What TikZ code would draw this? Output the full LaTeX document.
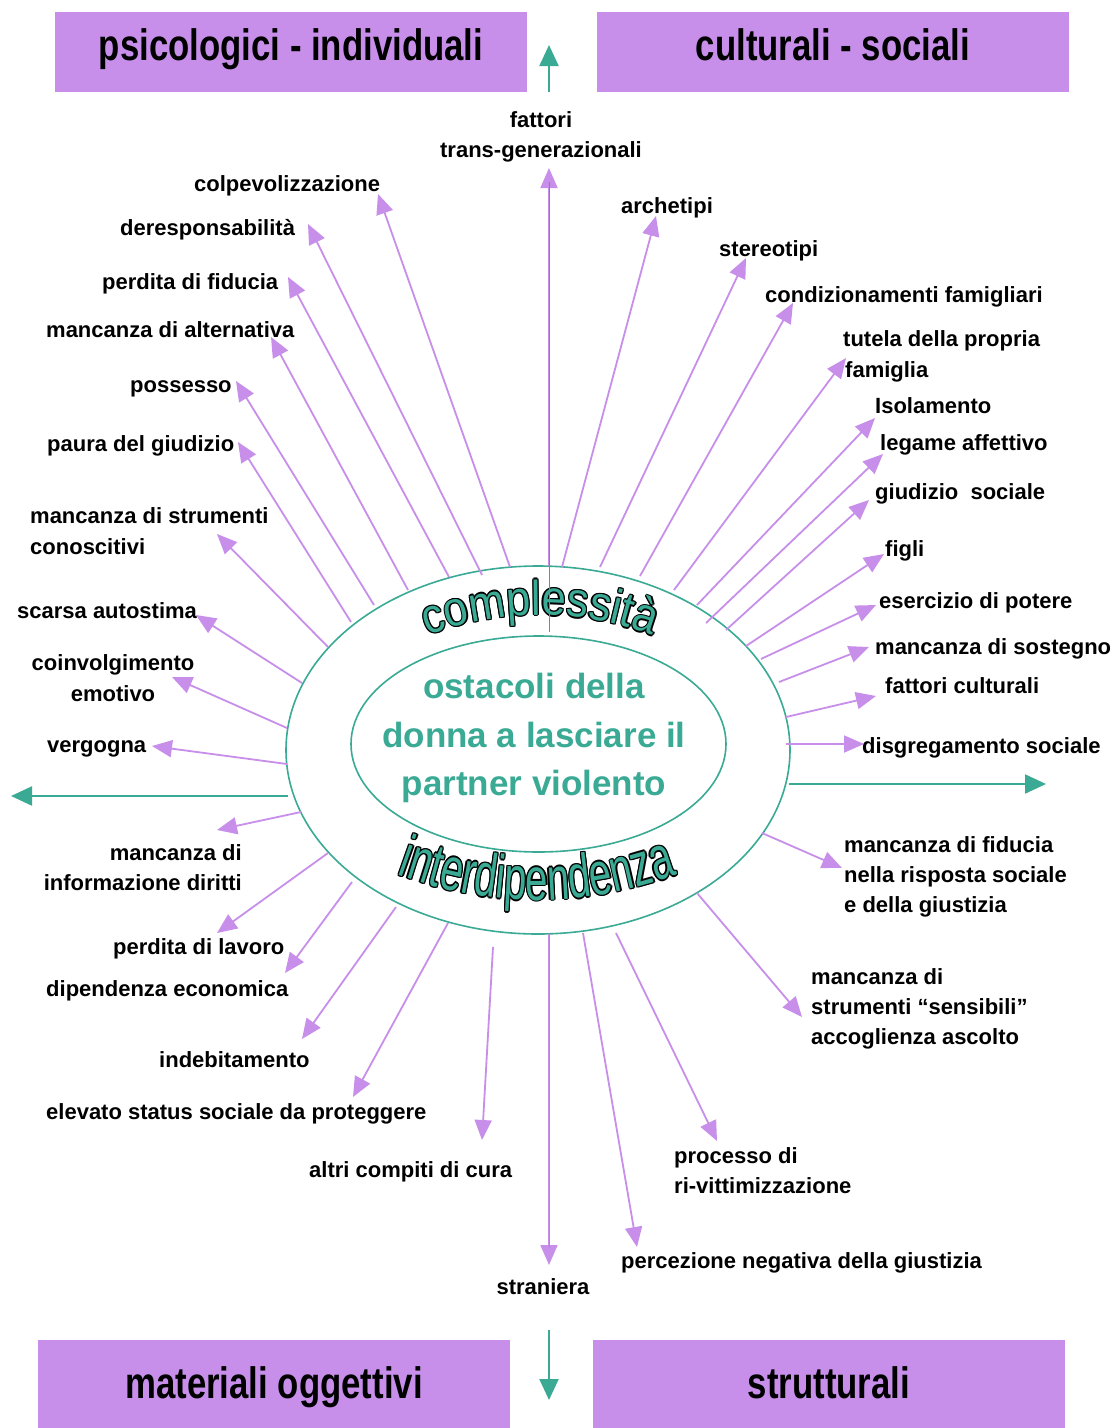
\documentclass[tikz,border=0pt]{standalone}
\usepackage{fontspec}
\setmainfont{Liberation Sans}
\newfontfamily\boxfont{Liberation Sans}[FakeStretch=0.79]
\newfontfamily\arcfontA{Liberation Sans}[FakeStretch=0.89]
\newfontfamily\arcfontB{Liberation Sans}[FakeStretch=0.66]
\usetikzlibrary{arrows.meta,decorations.text,shapes.geometric}
\definecolor{lav}{HTML}{C78FEA}
\definecolor{tealc}{HTML}{3AAA95}
\newcommand\lblfont{\bfseries\fontsize{22}{26}\selectfont}
\begin{document}
\begin{tikzpicture}[x=1pt,y=-1pt,
  lbl/.style={font=\lblfont, inner sep=0pt, text=black},
  parr/.style={color=lav, line width=1.8pt, -{Triangle[length=20pt,width=17pt,color=lav,fill=lav]}},
  tarr/.style={color=tealc, line width=2.2pt, -{Triangle[length=21pt,width=19pt,color=tealc,fill=tealc]}},
  boxst/.style={fill=lav, draw=none, inner sep=0pt, font=\boxfont\bfseries\fontsize{44}{44}\selectfont, text height=28pt, text depth=12pt, minimum width=472pt},
  ctr/.style={font=\bfseries\fontsize{35}{40}\selectfont, text=tealc, inner sep=0pt, anchor=base},
  ell/.style={draw=tealc, line width=1.6pt, ellipse, inner sep=0pt}
]
\fill[white] (0,0) rectangle (1112,1428);
\useasboundingbox (0,0) rectangle (1112,1428);

% category boxes
\node[boxst, minimum height=80pt] (psi) at (291,52) {psicologici - individuali};
\node[boxst, minimum height=80pt] (cul) at (833,52) {culturali - sociali};
\node[boxst, minimum height=100pt] (mat) at (274,1390) {materiali oggettivi};
\node[boxst, minimum height=100pt] (str) at (829,1390) {strutturali};

% ellipses
\node[ell, minimum width=504pt, minimum height=368pt] (outer) at (538,750) {};
\node[ell, minimum width=375pt, minimum height=216pt] (inner) at (538.5,744) {};

% centre text
\node[ctr] (c1) at (534,698) {ostacoli della};
\node[ctr] (c2) at (534,747) {donna a lasciare il};
\node[ctr] (c3) at (534,795) {partner violento};

% curved texts with black outline
\foreach \dx/\dy in {-1.3/0,1.3/0,0/-1.3,0/1.3,-0.9/-0.9,0.9/-0.9,-0.9/0.9,0.9/0.9}{
  \path[shift={(\dx,\dy)}, decorate, decoration={text along path, text align=center, text color=black,
    text={|\arcfontA\fontsize{49}{49}\selectfont|complessità}}]
    (400,647) .. controls (493.3,604.3) and (586.7,604.3) .. (680,647);
  \path[shift={(\dx,\dy)}, decorate, decoration={text along path, text align=center, text color=black,
    text={|\arcfontB\fontsize{61}{61}\selectfont|interdipendenza}}]
    (380,868) .. controls (484.7,910.7) and (589.3,910.7) .. (694,868);
}
\path[decorate, decoration={text along path, text align=center, text color=tealc,
    text={|\arcfontA\fontsize{49}{49}\selectfont|complessità}}]
    (400,647) .. controls (493.3,604.3) and (586.7,604.3) .. (680,647);
\path[decorate, decoration={text along path, text align=center, text color=tealc,
    text={|\arcfontB\fontsize{61}{61}\selectfont|interdipendenza}}]
    (380,868) .. controls (484.7,910.7) and (589.3,910.7) .. (694,868);

% labels
\node[lbl, anchor=base] (fat1) at (541,127) {fattori};
\node[lbl, anchor=base] (fat2) at (541,157) {trans-generazionali};
\node[lbl, anchor=base west] (colp) at (194,191) {colpevolizzazione};
\node[lbl, anchor=base west] (dere) at (120,235) {deresponsabilità};
\node[lbl, anchor=base west] (fidu) at (102,289) {perdita di fiducia};
\node[lbl, anchor=base west] (alte) at (46,337) {mancanza di alternativa};
\node[lbl, anchor=base west] (poss) at (130,392) {possesso};
\node[lbl, anchor=base west] (paur) at (47,451) {paura del giudizio};
\node[lbl, anchor=base west] (cono1) at (30,523) {mancanza di strumenti};
\node[lbl, anchor=base west] (cono2) at (30,554) {conoscitivi};
\node[lbl, anchor=base west] (scar) at (17,618) {scarsa autostima};
\node[lbl, anchor=base] (coin1) at (113,670) {coinvolgimento};
\node[lbl, anchor=base] (coin2) at (113,701) {emotivo};
\node[lbl, anchor=base west] (verg) at (47,752) {vergogna};
\node[lbl, anchor=base east] (info1) at (242,860) {mancanza di};
\node[lbl, anchor=base east] (info2) at (242,890) {informazione diritti};
\node[lbl, anchor=base west] (lavo) at (113,954) {perdita di lavoro};
\node[lbl, anchor=base west] (dipe) at (46,996) {dipendenza economica};
\node[lbl, anchor=base west] (inde) at (159,1067) {indebitamento};
\node[lbl, anchor=base west] (elev) at (46,1119) {elevato status sociale da proteggere};
\node[lbl, anchor=base west] (altr) at (309,1177) {altri compiti di cura};
\node[lbl, anchor=base] (stran) at (543,1294) {straniera};
\node[lbl, anchor=base west] (perc) at (621,1268) {percezione negativa della giustizia};
\node[lbl, anchor=base west] (proc1) at (674,1163) {processo di};
\node[lbl, anchor=base west] (proc2) at (674,1193) {ri-vittimizzazione};
\node[lbl, anchor=base west] (sens1) at (811,984) {mancanza di};
\node[lbl, anchor=base west] (sens2) at (811,1014) {strumenti “sensibili”};
\node[lbl, anchor=base west] (sens3) at (811,1044) {accoglienza ascolto};
\node[lbl, anchor=base west] (rsp1) at (844,852) {mancanza di fiducia};
\node[lbl, anchor=base west] (rsp2) at (844,882) {nella risposta sociale};
\node[lbl, anchor=base west] (rsp3) at (844,912) {e della giustizia};
\node[lbl, anchor=base west] (disg) at (862,753) {disgregamento sociale};
\node[lbl, anchor=base west] (fcul) at (885,693) {fattori culturali};
\node[lbl, anchor=base west] (sost) at (875,654) {mancanza di sostegno};
\node[lbl, anchor=base west] (eser) at (879,608) {esercizio di potere};
\node[lbl, anchor=base west] (figl) at (885,556) {figli};
\node[lbl, anchor=base west] (giud) at (875,499) {giudizio\ \ sociale};
\node[lbl, anchor=base west] (lega) at (880,450) {legame affettivo};
\node[lbl, anchor=base west] (isol) at (875,413) {Isolamento};
\node[lbl, anchor=base west] (tut1) at (843,346) {tutela della propria};
\node[lbl, anchor=base west] (tut2) at (845,377) {famiglia};
\node[lbl, anchor=base west] (cond) at (765,302) {condizionamenti famigliari};
\node[lbl, anchor=base west] (ster) at (719,256) {stereotipi};
\node[lbl, anchor=base west] (arch) at (621,213) {archetipi};

% purple arrows: name/start/tip
\foreach \n/\sx/\sy/\tx/\ty in {
  colp/510/567/378/194, dere/482/575/308/224, fidu/449/577/288/277,
  alte/408/590/271/337, poss/374/605/236/381, paur/351/622/238/442,
  cono/328/647/217/534, scar/302/683/196/615, coin/287/728/172/677,
  verg/287/764/152/746, info/301/812/217/830, lavo/328/853/217/933,
  dipe/352/882/285/973, inde/396/907/302/1039, elev/448/923/353/1097,
  altr/493/947/482/1140, perc/583/933/637/1247, proc/616/933/717/1141,
  sens/697/893/802/1017, rsp/762/833/842/868, disg/786/744/864/744,
  fcul/786/717/876/696, sost/779/682/869/647, eser/761/659/876/605,
  figl/746/646/884/554, giud/726/630/869/500, lega/706/623/883/454,
  isol/697/605/875/418, tut/674/590/846/358, cond/640/576/793/303,
  ster/600/567/746/258, arch/562/567/656/216}{
  \coordinate (s\n) at (\sx,\sy);
  \coordinate (t\n) at (\tx,\ty);
  \draw[parr] (s\n) -- (t\n);
}

% vertical purple arrows (with teal overlay)
\coordinate (sfat) at (549,566);
\coordinate (tfat) at (549,168);
\coordinate (ofat) at (549,632);
\coordinate (ufat) at (549,182);
\draw[parr] (sfat) -- (tfat);
\draw[draw=tealc, line width=1pt] (ofat) -- (ufat);
\coordinate (sstr) at (549,934);
\coordinate (tstr) at (549,1265);
\coordinate (ustr) at (549,1248);
\draw[parr] (sstr) -- (tstr);
\draw[draw=tealc, line width=1pt, opacity=0.35] (sstr) -- (ustr);

% teal arrows
\coordinate (tlS) at (288,796); \coordinate (tlE) at (11,796);
\coordinate (trS) at (789,784); \coordinate (trE) at (1046,784);
\coordinate (ttS) at (549,92);  \coordinate (ttE) at (549,45);
\coordinate (tbS) at (549,1330); \coordinate (tbE) at (549,1400);
\draw[tarr] (tlS) -- (tlE);
\draw[tarr] (trS) -- (trE);
\draw[tarr] (ttS) -- (ttE);
\draw[tarr] (tbS) -- (tbE);
\end{tikzpicture}
\end{document}
